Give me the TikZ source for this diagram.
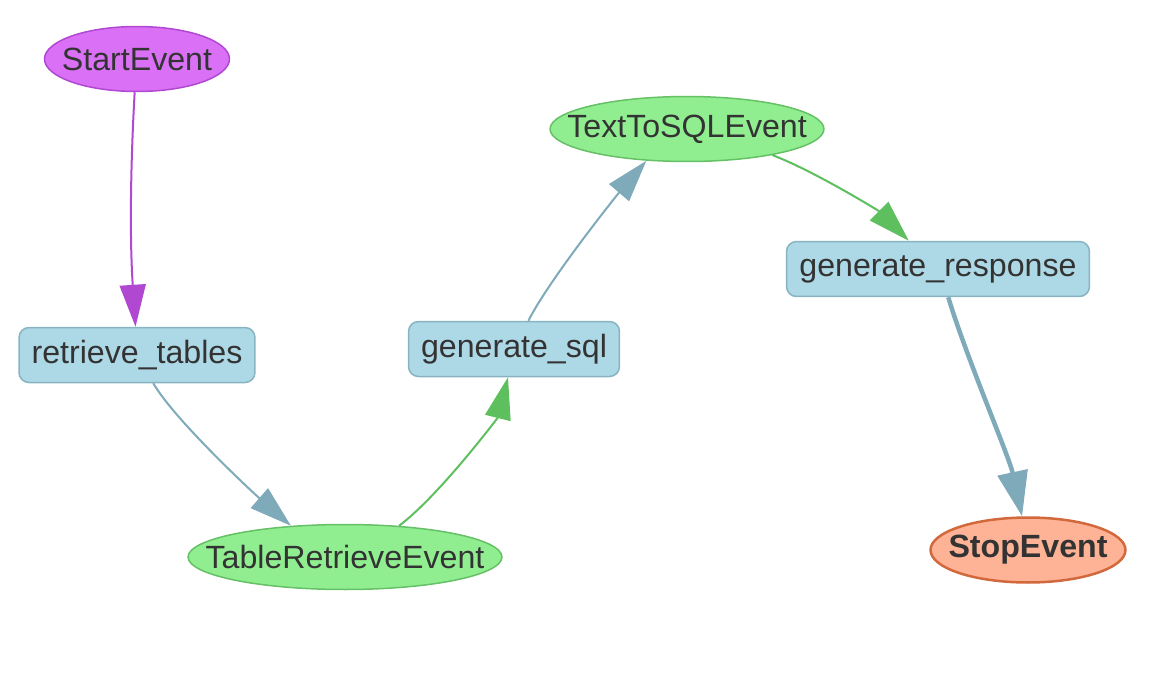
\documentclass[tikz,border=0pt]{standalone}
\usepackage{fontspec}
\setmainfont{Liberation Sans}
\usepackage{tikz}
\usetikzlibrary{positioning,shapes.geometric,arrows.meta}

\definecolor{startfill}{HTML}{DA70F5}
\definecolor{startline}{HTML}{B048D2}
\definecolor{boxfill}{HTML}{ADD8E6}
\definecolor{boxline}{HTML}{88B4C2}
\definecolor{evfill}{HTML}{90EE90}
\definecolor{evline}{HTML}{66C066}
\definecolor{stopfill}{HTML}{FFB396}
\definecolor{stopline}{HTML}{D2693C}
\definecolor{tealedge}{HTML}{7EAAB9}
\definecolor{greenedge}{HTML}{5DBF5D}
\definecolor{txt}{HTML}{333333}

% ellipse label of no width, so minimum width fixes the size
\newcommand{\evlabel}[1]{\makebox[0pt]{#1}}

\tikzset{
  every node/.style={font=\fontsize{18.3}{22}\selectfont, text=txt, line width=0.03cm},
  event/.style={ellipse, inner sep=0pt, draw=evline, fill=evfill, minimum height=1.3cm},
  stepbox/.style={rectangle, rounded corners=0.2cm, draw=boxline, fill=boxfill,
                  minimum height=1.1cm},
  flow/.style={line width=0.04cm, -{Triangle[length=0.84cm,width=0.52cm]}},
  bigflow/.style={line width=0.09cm, -{Triangle[length=0.9cm,width=0.6cm]}},
}

\begin{document}
\begin{tikzpicture}[x=0.02cm, y=-0.02cm]
  \useasboundingbox (0,0) rectangle (1170,673);

  \node[event, draw=startline, fill=startfill, minimum width=3.7cm] (start) at (137,59) {\evlabel{StartEvent}};
  \node[stepbox, minimum width=4.72cm] (retr) at (137,355) {retrieve\_tables};
  \node[event, minimum width=6.28cm] (tabev) at (345,557) {\evlabel{TableRetrieveEvent}};
  \node[stepbox, minimum width=4.22cm] (gsql) at (514,349) {generate\_sql};
  \node[event, minimum width=5.48cm] (sqlev) at (687,129) {\evlabel{TextToSQLEvent}};
  \node[stepbox, minimum width=6.06cm] (gresp) at (938,269) {generate\_response};
  \node[event, draw=stopline, fill=stopfill, minimum width=3.9cm, line width=0.05cm] (stop) at (1028,550) {\evlabel{\bfseries StopEvent}};

  \draw[flow, startline] (start.266) .. controls +(-4,70) and +(-6,-90) .. (retr.93);
  \draw[flow, tealedge] (retr.-60) .. controls +(20,35) and +(-40,-35) .. (tabev.150);
  \draw[flow, greenedge] (tabev.30) .. controls +(40,-30) and +(-10,40) .. (gsql.-102);
  \draw[flow, tealedge] (gsql.63) .. controls +(20,-40) and +(-30,35) .. (sqlev.218);
  \draw[flow, greenedge] (sqlev.-17) .. controls +(40,15) and +(-30,-30) .. (gresp.136);
  \draw[bigflow, tealedge] (gresp.-70) .. controls +(18,60) and +(-13,-60) .. (stop.100);
\end{tikzpicture}
\end{document}
